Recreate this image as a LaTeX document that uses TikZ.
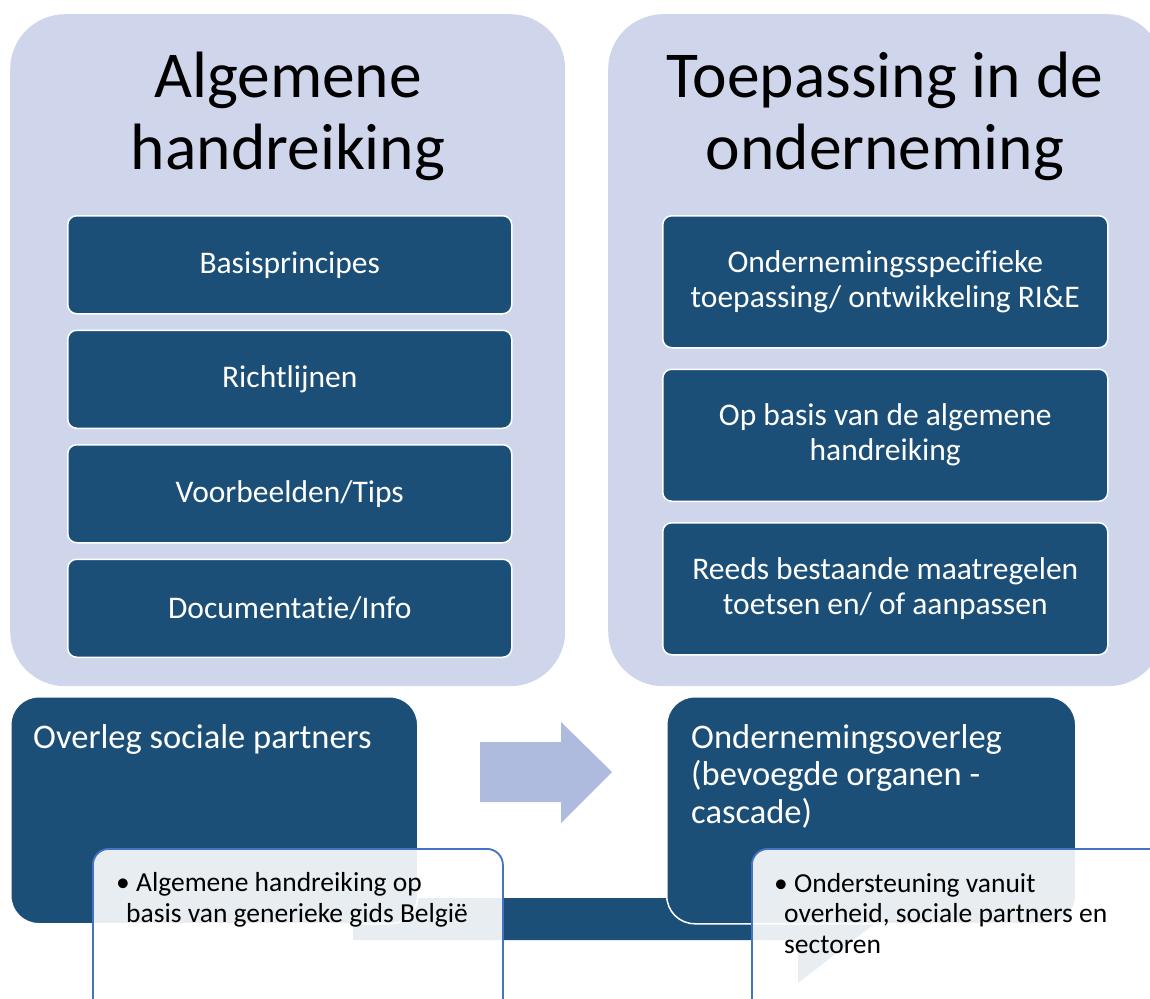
\documentclass[tikz,border=0pt]{standalone}
\usepackage{fontspec}
\setmainfont{Carlito}[Ligatures=NoCommon]
\usepackage{xcolor}
\usepackage{tikz}
\usetikzlibrary{positioning}
\definecolor{panelblue}{HTML}{CFD5EA}
\definecolor{tileblue}{HTML}{1C4F78}
\definecolor{arrowblue}{HTML}{AEBBDF}
\definecolor{calloutline}{HTML}{4472C4}

\begin{document}
\begin{tikzpicture}[x=1pt, y=-1pt, node distance=15pt,
  panel/.style={fill=panelblue, rounded corners=55pt, minimum width=555pt, minimum height=672pt},
  paneltitle/.style={font=\fontsize{65.5}{72}\selectfont, align=center, inner sep=0pt},
  tile/.style={fill=tileblue, draw=white, line width=1.5pt, rounded corners=9pt, text=white,
    font=\fontsize{31.5}{35}\selectfont, align=center, minimum width=444pt, minimum height=98pt},
  stepbox/.style={fill=tileblue, draw=white, line width=1.5pt, rounded corners=28pt, minimum width=407pt, minimum height=227pt},
  steptext/.style={text=white, font=\fontsize{34.5}{37.5}\selectfont, align=left, inner sep=0pt},
  callout/.style={fill=white, fill opacity=0.9, draw=calloutline, line width=1.8pt, rounded corners=16pt, minimum width=410pt, minimum height=200pt},
  callouttext/.style={font=\fontsize{27.5}{30.5}\selectfont, align=left, inner sep=0pt}]
\useasboundingbox (0,0) rectangle (1150,998);
\clip (0,0) rectangle (1150,998);

\node[panel, anchor=north west] (lpanel) at (10,14) {};
\node[panel, anchor=north west] (rpanel) at (608,14) {};
\node[paneltitle, anchor=base] (ltitle) at (288,169) {Algemene\\handreiking};
\node[paneltitle, anchor=base] (rtitle) at (885,169) {Toepassing in de\\onderneming};

\node[tile, anchor=north west] (basis) at (67,215) {Basisprincipes};
\node[tile, below=of basis] (richt) {Richtlijnen};
\node[tile, below=of richt] (voorb) {Voorbeelden/Tips};
\node[tile, below=of voorb] (docu) {Documentatie/Info};

\node[tile, anchor=north west, minimum width=445pt, minimum height=132pt] (spec) at (662,215) {Ondernemingsspecifieke\\toepassing/ ontwikkeling RI\&E};
\node[tile, minimum width=445pt, minimum height=132pt, below=20pt of spec] (opbasis) {Op basis van de algemene\\handreiking};
\node[tile, minimum width=445pt, minimum height=132pt, below=20pt of opbasis] (reeds) {Reeds bestaande maatregelen\\toetsen en/ of aanpassen};

\fill[tileblue] (353,898) -- (873,898) -- (873,925) -- (798,983) -- (798,940) -- (353,940) -- cycle;
\node[stepbox, anchor=north west] (overleg) at (10,696) {};
\node[stepbox, anchor=north west, minimum width=409pt] (ondovl) at (666,696) {};
\node[steptext, anchor=base west] (overlegtxt) at (33,748) {Overleg sociale partners};
\node[steptext, anchor=base west] (ondovltxt) at (691,823) {Ondernemingsoverleg\\(bevoegde organen -\\cascade)};

\fill[arrowblue] (480,742) -- (561,742) -- (561,722) -- (612,772) -- (561,823) -- (561,802) -- (480,802) -- cycle;

\node[callout, anchor=north west] (gids) at (92,848) {};
\node[callout, anchor=north west, minimum width=420pt] (steun) at (751,848) {};
\node[callouttext, anchor=base west] (gidstxt) at (116,922) {• Algemene handreiking op\\\hspace*{10pt}basis van generieke gids België};
\node[callouttext, anchor=base west] (steuntxt) at (774,953) {• Ondersteuning vanuit\\\hspace*{10pt}overheid, sociale partners en\\\hspace*{10pt}sectoren};
\end{tikzpicture}
\end{document}
